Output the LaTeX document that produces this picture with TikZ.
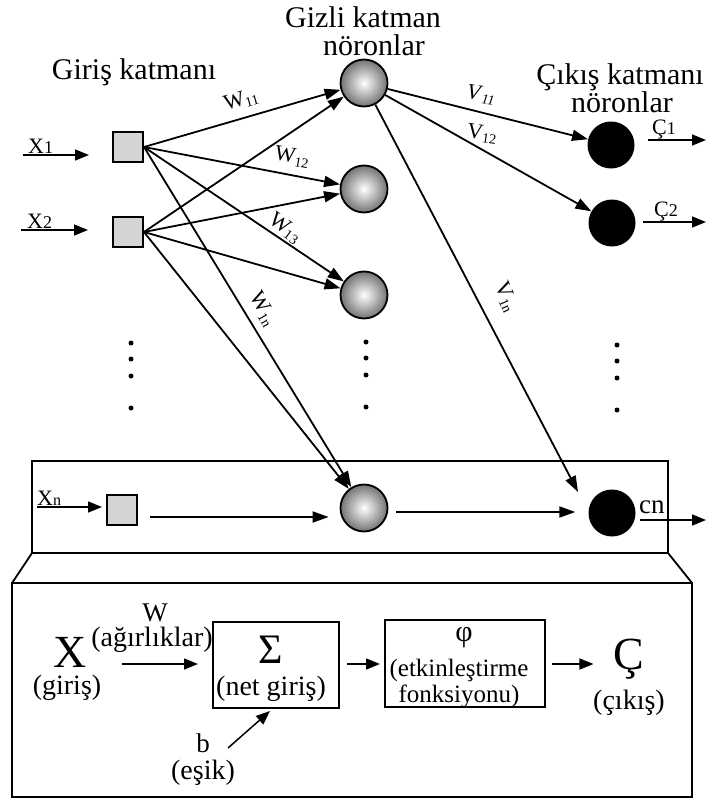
\documentclass[tikz,border=0pt]{standalone}
\usepackage{fontspec}
\setmainfont{Liberation Serif}
\usetikzlibrary{arrows.meta,calc}
\newcommand\myfs[1]{\fontsize{#1}{#1}\selectfont}
\newcommand\mysub[1]{\raisebox{-3pt}{\myfs{14}#1}}
\begin{document}
\begin{tikzpicture}[x=1pt,y=-1pt,
 arr/.style={-{Triangle[length=16pt,width=11pt]}, line width=1.8pt},
 sarr/.style={-{Triangle[length=14pt,width=11pt]}, line width=1.5pt},
 inp/.style={draw, line width=2pt, fill=black!17, minimum size=30pt, inner sep=0},
 hid/.style={circle, draw, line width=1.8pt, inner color=white, outer color=black!55, minimum size=47pt, inner sep=0},
 outn/.style={circle, fill=black, minimum size=47pt, inner sep=0},
 lbl/.style={inner sep=0, font=\myfs{30}},
 wl/.style={inner sep=0, font=\myfs{22}},
 bt/.style={inner sep=0, font=\myfs{28}},
 bx/.style={draw, line width=2pt, inner sep=0},
 dotn/.style={circle, fill=black, minimum size=5pt, inner sep=0},
]
\useasboundingbox (0,0) rectangle (707,800);

% layer titles
\node[lbl] (t1) at (134,72) {Giriş katmanı};
\node[lbl] (t2) at (363,17) {Gizli katman};
\node[lbl] (t3) at (374,45) {nöronlar};
\node[lbl] (t4) at (620,77) {Çıkış katmanı};
\node[lbl] (t5) at (622,102) {nöronlar};

% input nodes
\node[inp] (sq1) at (128,147) {};
\node[inp] (sq2) at (128,232) {};
\node[inp] (sqn) at (122,510) {};

% hidden nodes
\node[hid] (h1) at (364,83) {};
\node[hid] (h2) at (364,189) {};
\node[hid] (h3) at (364,295) {};
\node[hid] (hn) at (364,508) {};

% output nodes
\node[outn] (o1) at (611,145) {};
\node[outn] (o2) at (612,223) {};
\node[outn] (on) at (612,513) {};

% input arrows
\coordinate (x1s) at (23,155); \coordinate (x1e) at (89,155);
\coordinate (x2s) at (21,230); \coordinate (x2e) at (88,230);
\coordinate (xns) at (37,507); \coordinate (xne) at (102,507);
\draw[sarr] (x1s) -- (x1e);
\draw[sarr] (x2s) -- (x2e);
\draw[sarr] (xns) -- (xne);
\node[inner sep=0, anchor=south west] (lx1) at (28,154) {\myfs{22}X{\myfs{18}1}};
\node[inner sep=0, anchor=south west] (lx2) at (27,229) {\myfs{22}X{\myfs{18}2}};
\node[inner sep=0, anchor=south west] (lxn) at (37,506) {\myfs{22}X{\myfs{16}n}};

% input -> hidden
\foreach \s in {sq1,sq2}{
  \foreach \h in {h1,h2,h3,hn}{
    \draw[arr] (\s.east) -- (\h);
  }
}
\draw[arr] ($(sqn.east)+(12,7)$) -- ($(hn.west)+(-11,9)$);

% hidden -> output
\coordinate (von) at (578,492);
\draw[arr] (h1) -- (o1);
\draw[arr] (h1) -- (o2);
\draw[arr] (h1) -- (von);
\draw[arr] ($(hn.east)+(8,4)$) -- ($(on.west)+(-13,-1)$);

% output arrows
\coordinate (c1s) at (648,140); \coordinate (c1e) at (706,140);
\coordinate (c2s) at (643,222); \coordinate (c2e) at (706,222);
\coordinate (cns) at (640,520); \coordinate (cne) at (706,520);
\draw[sarr] (c1s) -- (c1e);
\draw[sarr] (c2s) -- (c2e);
\draw[sarr] (cns) -- (cne);
\node[inner sep=0, anchor=south west] (lc1) at (652,139) {\myfs{22}Ç{\myfs{18}1}};
\node[inner sep=0, anchor=south west] (lc2) at (654,221) {\myfs{22}Ç{\myfs{18}2}};
\node[inner sep=0, anchor=south west] (lcn) at (639,514) {\myfs{27}cn};

% weight labels
\node[wl, rotate=16] (w11) at (241,100) {W\mysub{11}};
\node[wl, rotate=-10] (w12) at (292,157) {W\mysub{12}};
\node[wl, rotate=-36] (w13) at (285,228) {W\mysub{13}};
\node[wl, rotate=-60] (w1n) at (263,309) {W\mysub{1n}};
\node[wl, rotate=-8] (v11) at (481,95) {\textit{V}\mysub{\textit{11}}};
\node[wl, rotate=-8] (v12) at (482,134) {V\mysub{12}};
\node[wl, rotate=-66] (v1n) at (506,297) {V\mysub{1n}};

% dots
\foreach \y [count=\i] in {343,359,376,408}{
  \node[dotn] (da\i) at (131,\y) {};
  \node[dotn] (db\i) at (366,\y-1) {};
  \node[dotn] (dc\i) at (617,\y+2) {};
}

% zoom box and trapezoid
\draw[line width=2pt] (32,461) rectangle (668,553);
\draw[line width=1.8pt] (32,553) -- (12,583);
\draw[line width=1.8pt] (668,553) -- (692,583);
\draw[line width=2pt] (12,583) rectangle (692,797);

% bottom detail
\node[inner sep=0, font=\myfs{46}] (X) at (70,652) {X};
\node[bt] (Xl) at (67,688) {(giriş)};
\node[inner sep=0, font=\myfs{27}] (W) at (155,613) {W};
\node[bt] (Wl) at (152,640) {(ağırlıklar)};
\node[bx, minimum width=126pt, minimum height=86pt] (sig) at (276,665) {};
\node[inner sep=0, font=\myfs{42}] (sigt) at (271,650) {Σ};
\node[bt] (sigl) at (271,689) {(net giriş)};
\node[bx, minimum width=160pt, minimum height=87pt] (phi) at (465,663) {};
\node[inner sep=0, font=\myfs{30}] (phit) at (464,638) {φ};
\node[inner sep=0, font=\myfs{25}] (phil1) at (459,670) {(etkinleştirme};
\node[inner sep=0, font=\myfs{25}] (phil2) at (459,696) {fonksiyonu)};
\node[inner sep=0, font=\myfs{46}] (C) at (629,659) {Ç};
\node[bt] (Cl) at (629,703) {(çıkış)};
\node[inner sep=0, font=\myfs{27}] (b) at (203,743) {b};
\node[bt] (bl) at (203,773) {(eşik)};

\coordinate (xa) at (122,664);
\draw[sarr] (xa) -- ($(sig.west)+(-14,-1)$);
\draw[sarr] ($(sig.east)+(7,-1)$) -- ($(phi.west)+(-4,1)$);
\draw[sarr] ($(phi.east)+(6,1)$) -- ($(C.west)+(-20,5)$);
\coordinate (ba) at (228,748);
\draw[sarr] (ba) -- ($(sig.south)+(-6,2)$);
\end{tikzpicture}
\end{document}
